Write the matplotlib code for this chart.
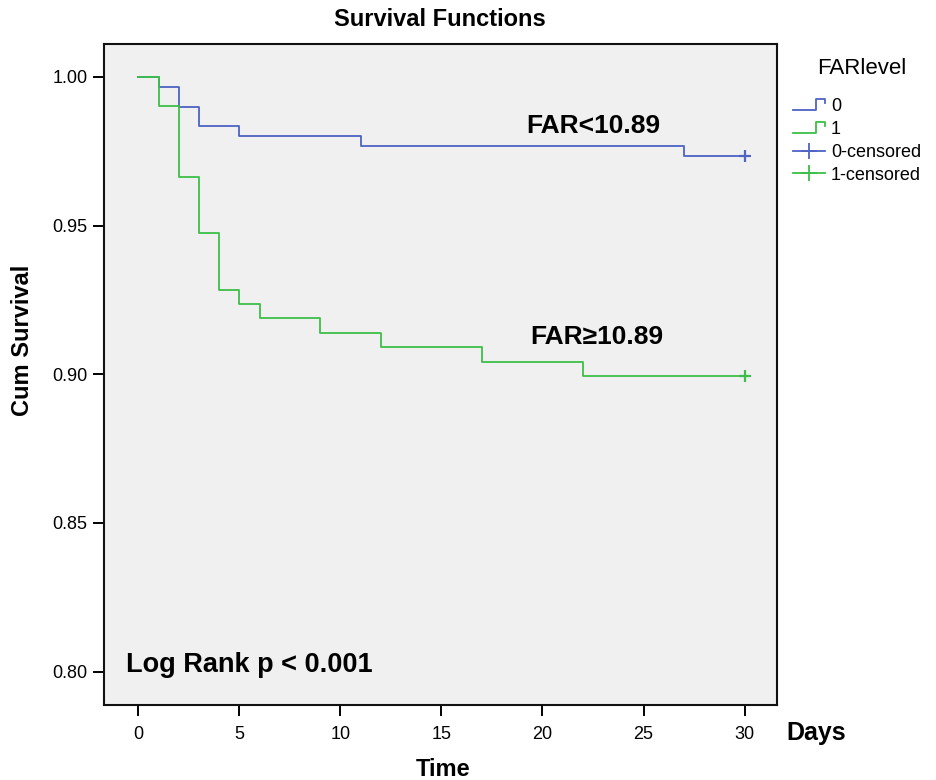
import matplotlib
matplotlib.use("Agg")
import matplotlib.pyplot as plt
from matplotlib.legend_handler import HandlerBase
from matplotlib.lines import Line2D

plt.rcParams['font.family'] = ['Liberation Sans', 'DejaVu Sans']

# Kaplan-Meier estimates (days, cumulative survival)
days_low = [0, 1, 2, 3, 5, 11, 27, 30]
surv_low = [1.0, 0.9967, 0.9900, 0.9834, 0.9801, 0.9767, 0.9734, 0.9734]

days_high = [0, 1, 2, 3, 4, 5, 6, 9, 12, 17, 22, 30]
surv_high = [1.0, 0.9904, 0.9664, 0.9474, 0.9283, 0.9235, 0.9188,
             0.9140, 0.9092, 0.9043, 0.8995, 0.8995]

censor_low = [30]
censor_high = [30]

x_ticks = [0, 5, 10, 15, 20, 25, 30]
y_ticks = [0.80, 0.85, 0.90, 0.95, 1.00]
legend_labels = ["0", "1", "0-censored", "1-censored"]

BLUE = '#4e63c4'
GREEN = '#3cbf48'


class StepHandler(HandlerBase):
    """legend glyph shaped like a small survival step"""
    def create_artists(self, legend, orig_handle, xdescent, ydescent,
                       width, height, fontsize, trans):
        x0, y0 = -xdescent, -ydescent
        xs = [x0, x0 + 0.72 * width, x0 + 0.72 * width, x0 + width, x0 + width]
        ys = [y0 + 0.1 * height, y0 + 0.1 * height, y0 + 0.95 * height,
              y0 + 0.95 * height, y0 + 0.6 * height]
        ln = Line2D(xs, ys, color=orig_handle.get_color(), lw=1.3)
        ln.set_transform(trans)
        return [ln]


fig = plt.figure(figsize=(9.36, 7.8), dpi=100)
ax = fig.add_axes([0.1115, 0.0962, 0.7185, 0.8478])
ax.set_facecolor('#f0f0f0')

l0, = ax.step(days_low, surv_low, where='post', color=BLUE, lw=1.3)
l1, = ax.step(days_high, surv_high, where='post', color=GREEN, lw=1.3)
ax.plot(censor_low, [surv_low[-1]] * len(censor_low), '+', color=BLUE,
        ms=9, mew=1.6)
ax.plot(censor_high, [surv_high[-1]] * len(censor_high), '+', color=GREEN,
        ms=9, mew=1.6)

ax.set_xlim(-1.68, 31.6)
ax.set_ylim(0.7888, 1.0112)
ax.set_xticks(x_ticks)
ax.set_yticks(y_ticks)
ax.set_yticklabels([f"{v:.2f}" for v in y_ticks])
ax.tick_params(axis='both', direction='out', length=8, width=1.4, labelsize=13)
ax.tick_params(axis='x', pad=7)
ax.tick_params(axis='y', pad=4)
for sp in ax.spines.values():
    sp.set_linewidth(1.5)
    sp.set_color('#111111')

ax.text(-0.6, 0.8022, "Log Rank p < 0.001", fontsize=19.5, fontweight='bold',
        ha='left', va='center')
ax.text(19.2, 0.9834, "FAR<10.89", fontsize=19, fontweight='bold',
        ha='left', va='center')
ax.text(19.4, 0.9124, "FAR\u226510.89", fontsize=19, fontweight='bold',
        ha='left', va='center')

fig.text(440 / 936, 1 - 19 / 780, "Survival Functions", fontsize=17,
         fontweight='bold', ha='center', va='center')
fig.text(23 / 936, 1 - 340 / 780, "Cum Survival", fontsize=17,
         fontweight='bold', ha='center', va='center', rotation=90)
fig.text(443 / 936, 1 - 770 / 780, "Time", fontsize=17,
         fontweight='bold', ha='center', va='center')
fig.text(786 / 936, 1 - 733 / 780, "Days", fontsize=18,
         fontweight='bold', ha='left', va='center')

# legend: title as its own text so it can sit right of the handles
fig.text(817 / 936, 1 - 69 / 780, "FARlevel", fontsize=16,
         ha='left', va='center')
p0 = Line2D([], [], color=BLUE, lw=1.3, marker='+', ms=12, mew=1.3)
p1 = Line2D([], [], color=GREEN, lw=1.3, marker='+', ms=12, mew=1.3)
ax.legend([l0, l1, p0, p1], legend_labels,
          handler_map={l0: StepHandler(), l1: StepHandler()},
          loc='upper left', bbox_to_anchor=(1.024, 0.918),
          frameon=False, fontsize=13,
          handlelength=1.75, handletextpad=0.35, labelspacing=0.33,
          borderaxespad=0, borderpad=0, numpoints=1)

fig.savefig("out.png", dpi=100, facecolor='white')
